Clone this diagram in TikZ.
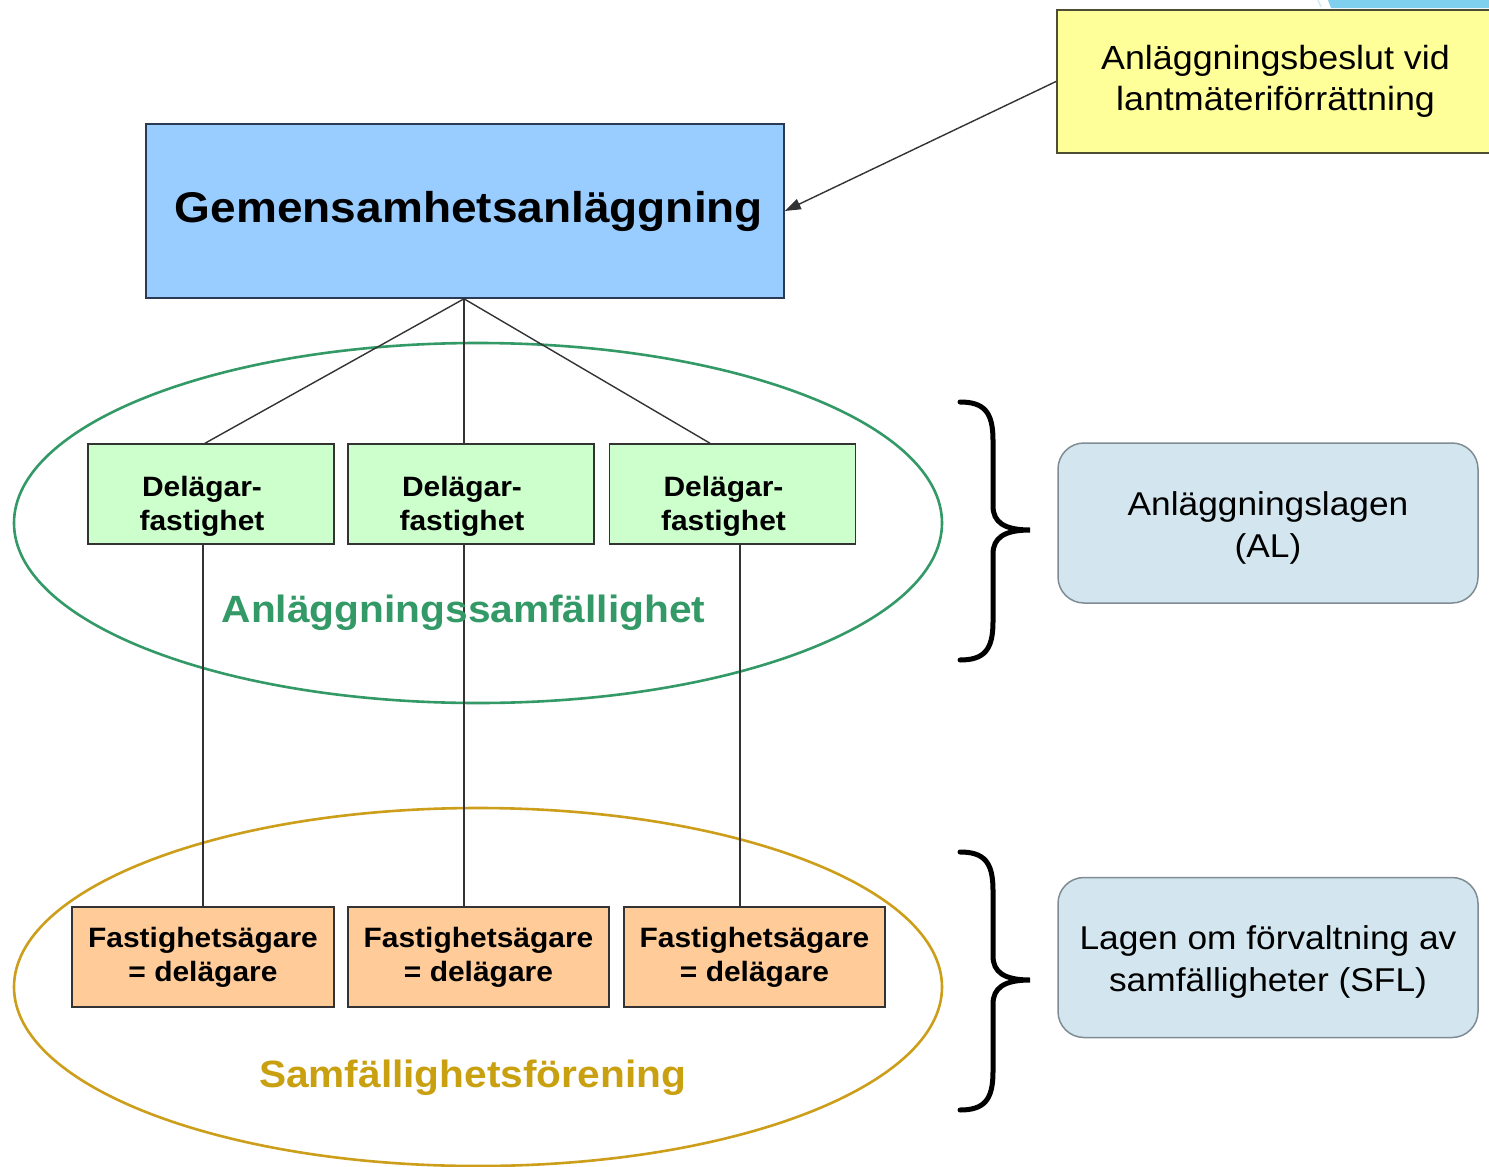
\documentclass[tikz,border=0pt]{standalone}
\usepackage{fontspec}
\setmainfont{Liberation Sans}[FakeStretch=1.07]
\usetikzlibrary{arrows.meta,calc}
\definecolor{bluefill}{HTML}{99CCFF}
\definecolor{bluebord}{HTML}{2A3A55}
\definecolor{yellowfill}{HTML}{FFFF99}
\definecolor{yellowbord}{HTML}{4D4D33}
\definecolor{greenfill}{HTML}{CCFFCC}
\definecolor{orangefill}{HTML}{FFCC99}
\definecolor{boxbord}{HTML}{333333}
\definecolor{lawfill}{HTML}{D3E6EF}
\definecolor{lawbord}{HTML}{7F8C94}
\definecolor{ellgreen}{HTML}{339966}
\definecolor{ellgold}{HTML}{CC9E1A}
\definecolor{labgold}{HTML}{C9A010}
\definecolor{linec}{HTML}{333333}
\definecolor{slideblue}{HTML}{7FD0EE}
\newcommand\fsz[2]{\fontsize{#1}{#2}\selectfont}
\begin{document}
\begin{tikzpicture}[x=1pt,y=-1pt,
  conn/.style={draw=linec, line width=1.4pt},
  bluebox/.style={draw=bluebord, fill=bluefill, line width=1.6pt, minimum width=638pt, minimum height=174pt, inner sep=0pt, font=\fsz{43}{50}\bfseries},
  yellowbox/.style={draw=yellowbord, fill=yellowfill, line width=2pt, minimum width=437pt, minimum height=143pt, inner sep=0pt, align=center, font=\fsz{33.5}{41}},
  greenbox/.style={draw=boxbord, fill=greenfill, line width=1.5pt, minimum width=246pt, minimum height=100pt, inner sep=0pt, align=center, font=\fsz{28}{34}\bfseries, text height=78pt, text depth=6pt},
  orangebox/.style={draw=boxbord, fill=orangefill, line width=1.5pt, minimum width=261pt, minimum height=100pt, inner sep=0pt, align=center, font=\fsz{28}{34}\bfseries},
  lawbox/.style={draw=lawbord, fill=lawfill, line width=1.5pt, rounded corners=26pt, minimum width=420pt, minimum height=160pt, inner sep=0pt, align=center, font=\fsz{33}{42}, text height=75pt, text depth=7pt},
  grouplabel/.style={font=\fsz{38}{44}\bfseries, anchor=base, inner sep=0pt},
  bracepath/.style={draw=black, line width=5pt, line cap=round}
]
\useasboundingbox (0,0) rectangle (1489,1167);
\fill[white] (0,0) rectangle (1489,1167);

% slide decoration at top right
\fill[slideblue] (1328,0) -- (1331,8) -- (1489,8) -- (1489,0) -- cycle;
\draw[slideblue!40, line width=1.5pt] (1318,0) -- (1321,7);

% ellipses
\draw[ellgreen, line width=2.6pt] (478,523) ellipse [x radius=464, y radius=180];
\draw[ellgold, line width=2.6pt] (478,987) ellipse [x radius=464, y radius=179];

% nodes
\node[yellowbox] (dec) at (1275.5,81.5) {Anläggningsbeslut vid\\lantmäteriförrättning};
\node[bluebox] (gem) at (465,211) {\hspace*{8pt}Gemensamhetsanläggning};

\node[greenbox] (g1) at (211,494) {\hspace*{-18pt}Delägar-\\\hspace*{-18pt}fastighet};
\node[greenbox] (g2) at (471,494) {\hspace*{-18pt}Delägar-\\\hspace*{-18pt}fastighet};
\node[greenbox] (g3) at (732.5,494) {\hspace*{-18pt}Delägar-\\\hspace*{-18pt}fastighet};

\node[orangebox, minimum width=262pt] (o1) at (203,957) {Fastighetsägare\\= delägare};
\node[orangebox] (o2) at (478.5,957) {Fastighetsägare\\= delägare};
\node[orangebox] (o3) at (754.5,957) {Fastighetsägare\\= delägare};

\node[lawbox] (al) at (1268,523) {Anläggningslagen\\(AL)};
\node[lawbox] (sfl) at (1268,957.5) {Lagen om förvaltning av\\samfälligheter (SFL)};

% connectors
\draw[conn, -{Triangle[length=16pt,width=11pt]}] (dec.west) -- (gem.east);
\draw[conn] ([xshift=-1pt]gem.south) -- ([xshift=-6pt]g1.north);
\draw[conn] ([xshift=-1pt]gem.south) -- ([xshift=-7pt]g2.north);
\draw[conn] ([xshift=-1pt]gem.south) -- ([xshift=-22.5pt]g3.north);
\draw[conn] ([xshift=-8pt]g1.south) -- ([xshift=-8pt]g1.south |- o1.north);
\draw[conn] ([xshift=-7pt]g2.south) -- ([xshift=-7pt]g2.south |- o2.north);
\draw[conn] ([xshift=7.5pt]g3.south) -- ([xshift=7.5pt]g3.south |- o3.north);

% group labels
\node[grouplabel, text=ellgreen] (lab1) at (463.5,622) {Anläggningssamfällighet};
\node[grouplabel, text=labgold] (lab2) at (472.5,1087) {Samfällighetsförening};

% braces
\draw[bracepath] (960,402) .. controls (984,402) and (993,412) .. (993,440) -- (993,506)
  .. controls (993,522) and (1004,530) .. (1030,530)
  .. controls (1004,530) and (993,538) .. (993,554) -- (993,622)
  .. controls (993,650) and (984,660) .. (960,660);
\draw[bracepath] (960,852) .. controls (984,852) and (993,862) .. (993,890) -- (993,956)
  .. controls (993,972) and (1004,980) .. (1030,980)
  .. controls (1004,980) and (993,988) .. (993,1004) -- (993,1072)
  .. controls (993,1100) and (984,1110) .. (960,1110);
\end{tikzpicture}
\end{document}
